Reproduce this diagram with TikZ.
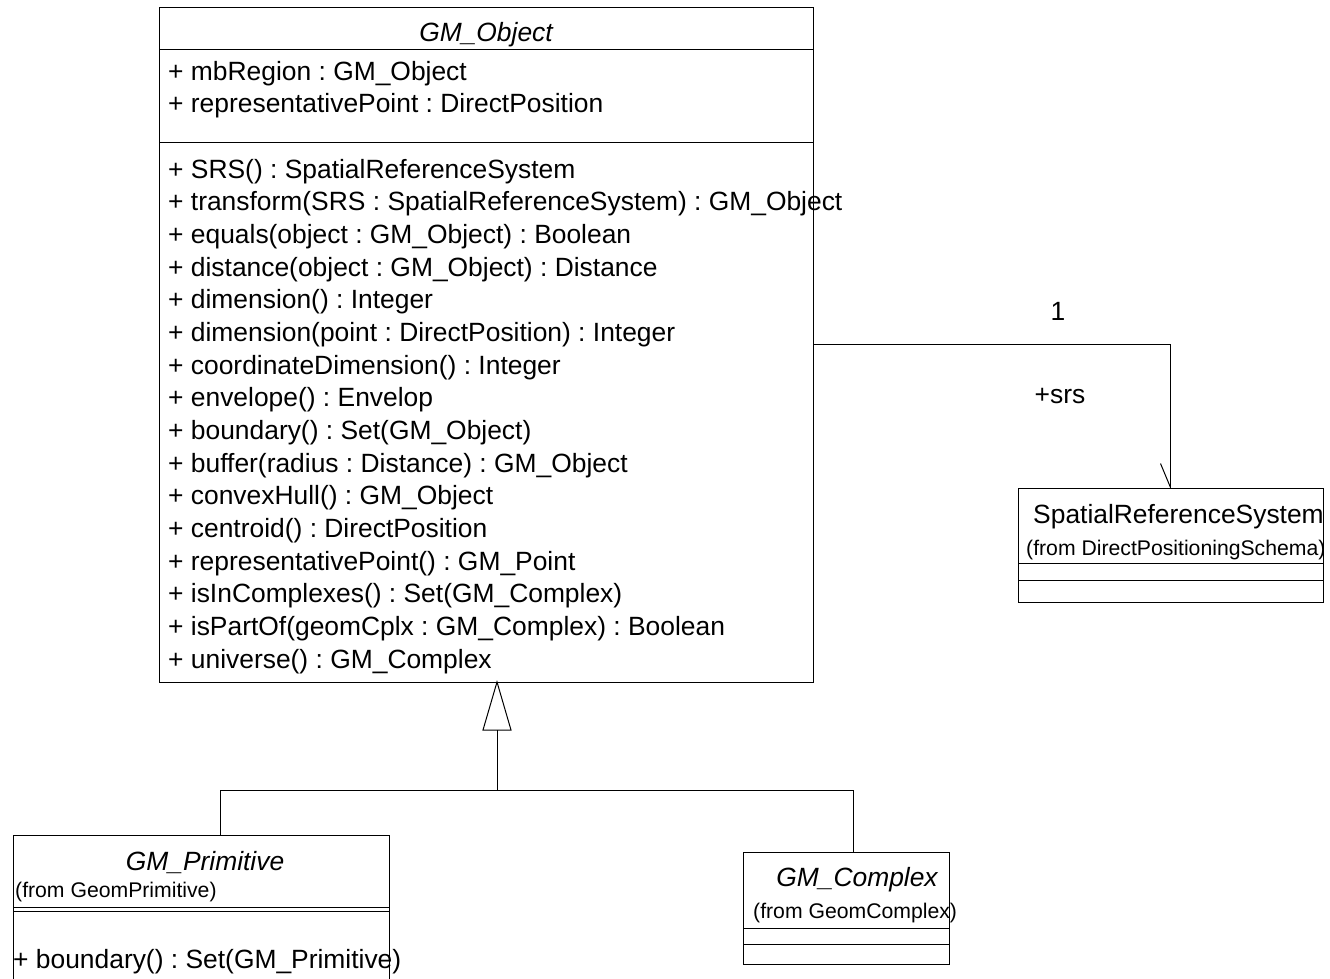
\documentclass[tikz,border=0pt]{standalone}
\usepackage{fontspec}
\setmainfont{Liberation Sans}
\frenchspacing
\begin{document}
\begin{tikzpicture}[x=1pt,y=-1pt,
  umlbox/.style={draw, line width=1pt, rectangle, inner sep=0pt},
  conn/.style={draw, line width=1pt},
  rule/.style={draw, line width=1pt},
  main/.style={font=\fontsize{26.4}{32}\selectfont, inner sep=0pt},
  mainit/.style={font=\fontsize{26.4}{32}\selectfont\itshape, inner sep=0pt},
  small/.style={font=\fontsize{21.2}{25}\selectfont, inner sep=0pt}]
\useasboundingbox (0,0) rectangle (1330,979);

% GM_Object class
\node[umlbox, minimum width=654pt, minimum height=674pt] (obj) at (486,345) {};
\node[mainit, anchor=base] (objname) at (486,42) {GM\_Object};
\draw[rule] (159,50) -- (813,50);
\node[main, anchor=base west] (att0) at (168,81) {+ mbRegion : GM\_Object};
\node[main, anchor=base west] (att1) at (168,113) {+ representativePoint : DirectPosition};
\draw[rule] (159,143) -- (813,143);
\foreach \t [count=\k from 0] in {
  {+ SRS() : SpatialReferenceSystem},
  {+ transform(SRS : SpatialReferenceSystem) : GM\_Object},
  {+ equals(object : GM\_Object) : Boolean},
  {+ distance(object : GM\_Object) : Distance},
  {+ dimension() : Integer},
  {+ dimension(point : DirectPosition) : Integer},
  {+ coordinateDimension() : Integer},
  {+ envelope() : Envelop},
  {+ boundary() : Set(GM\_Object)},
  {+ buffer(radius : Distance) : GM\_Object},
  {+ convexHull() : GM\_Object},
  {+ centroid() : DirectPosition},
  {+ representativePoint() : GM\_Point},
  {+ isInComplexes() : Set(GM\_Complex)},
  {+ isPartOf(geomCplx : GM\_Complex) : Boolean},
  {+ universe() : GM\_Complex}}
  \node[main, anchor=base west] (op\k) at (168,{178+32.67*\k}) {\t};

% SpatialReferenceSystem class
\node[umlbox, minimum width=305pt, minimum height=114pt] (srs) at (1170.5,545) {};
\node[main, anchor=base west] (srsname) at (1033,523) {SpatialReferenceSystem};
\node[small, anchor=base west] (srsfrom) at (1026,555) {(from DirectPositioningSchema)};
\draw[rule] (1018,563) -- (1323,563);
\draw[rule] (1018,580) -- (1323,580);

% GM_Primitive class
\node[umlbox, minimum width=376pt, minimum height=175pt] (prim) at (201,922.5) {};
\node[mainit, anchor=base] (primname) at (205,870) {GM\_Primitive};
\node[small, anchor=base west] (primfrom) at (15,897) {(from GeomPrimitive)};
\draw[rule] (13,907) -- (389,907);
\draw[rule] (13,911) -- (389,911);
\node[main, anchor=base west] (primop) at (13,968) {+ boundary() : Set(GM\_Primitive)};

% GM_Complex class
\node[umlbox, minimum width=206pt, minimum height=112pt] (cplx) at (846,908) {};
\node[mainit, anchor=base] (cplxname) at (857,886) {GM\_Complex};
\node[small, anchor=base west] (cplxfrom) at (753,918) {(from GeomComplex)};
\draw[rule] (743,928) -- (949,928);
\draw[rule] (743,944) -- (949,944);

% association GM_Object -> SpatialReferenceSystem
\coordinate (assocY) at (813,344);
\draw[conn] (obj.east |- assocY) -| (srs.north);
\draw[conn] (srs.north) -- ++(-10,-24);
\node[main, anchor=base] (mult) at (1058,320) {1};
\node[main, anchor=base] (role) at (1060,403) {+srs};

% generalization to GM_Object
\coordinate (apex) at (497,682);
\coordinate (base) at (497,730);
\coordinate (junction) at (497,790);
\coordinate (primTop) at (220,835);
\coordinate (cplxTop) at (853,852);
\draw[conn, line join=miter] (apex) -- (483,730) -- (511,730) -- cycle;
\draw[conn] (base) -- (junction);
\draw[conn] (junction) -| (primTop);
\draw[conn] (junction) -| (cplxTop);
\end{tikzpicture}
\end{document}
